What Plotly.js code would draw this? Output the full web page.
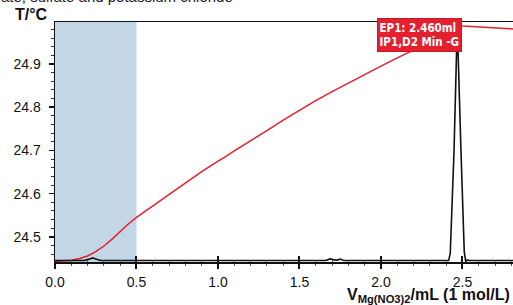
<!DOCTYPE html>
<html>
<head>
<meta charset="utf-8">
<script src="https://cdn.plot.ly/plotly-3.0.1.min.js"></script>
<style>html,body{margin:0;padding:0;background:#fff;overflow:hidden}#chart{width:513px;height:305px}</style>
</head>
<body>
<div id="chart"></div>
<script>
// Temperature curve (red)
const volT = [0, 0.05, 0.10, 0.15, 0.20, 0.25, 0.30, 0.35, 0.40, 0.45, 0.50, 0.60, 0.70, 0.80, 0.90, 1.00, 1.02, 1.035, 1.10, 1.20, 1.30, 1.40, 1.50, 1.60, 1.70, 1.80, 1.90, 2.00, 2.10, 2.20, 2.30, 2.40, 2.44, 2.46, 2.47, 2.50, 2.60, 2.70, 2.81];
const temp = [24.4435, 24.444, 24.446, 24.450, 24.456, 24.466, 24.479, 24.495, 24.513, 24.530, 24.545, 24.572, 24.598, 24.625, 24.651, 24.675, 24.679, 24.683, 24.699, 24.722, 24.746, 24.770, 24.793, 24.815, 24.836, 24.856, 24.876, 24.895, 24.914, 24.932, 24.950, 24.970, 24.980, 24.987, 24.989, 24.988, 24.986, 24.984, 24.981];
// Derivative curve (black), arbitrary units
const volD = [0, 0.18, 0.21, 0.23, 0.25, 0.28, 1.66, 1.69, 1.71, 1.73, 1.75, 1.77, 2.415, 2.425, 2.448, 2.468, 2.491, 2.511, 2.52, 2.53, 2.54, 2.81];
const deriv = [0, 0, 0.006, 0.011, 0.007, 0, 0, 0.007, 0.003, 0.002, 0.006, 0, 0, 0.03, 0.455, 0.99, 0.455, 0.036, -0.004, 0.003, 0, 0];
// Axis settings
const xTicks = [0.0, 0.5, 1.0, 1.5, 2.0, 2.5];
const yTicks = [24.5, 24.6, 24.7, 24.8, 24.9];
const shadeRange = [0, 0.5];
const epLabel = ['EP1: 2.460ml', 'IP1,D2 Min -G'];
const epPoint = [2.46, 24.987];

const font = 'Liberation Sans, Arial, Helvetica, sans-serif';
const traces = [
  {x: volT, y: temp, type: 'scatter', mode: 'lines', line: {color: '#e4202e', width: 1.5}, xaxis: 'x', yaxis: 'y', hoverinfo: 'skip'},
  {x: volD, y: deriv, type: 'scatter', mode: 'lines', line: {color: '#111', width: 1.6}, xaxis: 'x2', yaxis: 'y2', hoverinfo: 'skip'}
];
const xr = [0, 2.81];
const layout = {
  width: 513, height: 305,
  margin: {l: 55, r: 0, t: 22, b: 43},
  paper_bgcolor: '#fff', plot_bgcolor: '#fff',
  showlegend: false,
  font: {family: font, size: 14, color: '#111'},
  xaxis: {range: xr, tickvals: xTicks, tickformat: '.1f', ticks: 'outside', ticklen: 5, tickwidth: 2, tickcolor: '#111',
          showline: true, linecolor: '#111', linewidth: 1.5, mirror: true, showgrid: false, zeroline: false, ticklabelstandoff: 2,
          minor: {dtick: 0.1, ticks: 'outside', ticklen: 2, tickcolor: '#555', tickwidth: 1},
          tickfont: {size: 14}, anchor: 'y'},
  xaxis2: {range: xr, matches: 'x', overlaying: 'x', anchor: 'y', side: 'bottom', tickvals: xTicks, ticks: 'inside', ticklen: 6, tickwidth: 2, tickcolor: '#111',
           showticklabels: false, showline: false, showgrid: false, zeroline: false,
           minor: {dtick: 0.1, ticks: 'inside', ticklen: 2, tickcolor: '#555', tickwidth: 1}},
  yaxis: {range: [24.442, 24.997], tickvals: yTicks, tickformat: '.1f', ticks: 'outside', ticklen: 5, tickwidth: 1.5, tickcolor: '#111',
          showline: true, linecolor: '#111', linewidth: 1.5, showgrid: false, zeroline: false, ticklabelstandoff: 5,
          minor: {dtick: 0.02, ticks: 'outside', ticklen: 3, tickcolor: '#333', tickwidth: 1},
          tickfont: {size: 14}},
  yaxis2: {range: [-0.006, 1.0], overlaying: 'y', anchor: 'x2', visible: false, showgrid: false, zeroline: false},
  shapes: [
    {type: 'rect', xref: 'x', yref: 'paper', x0: shadeRange[0], x1: shadeRange[1], y0: 0, y1: 1, fillcolor: 'rgb(195,214,230)', line: {width: 0}, layer: 'below'}
  ],
  annotations: [
    {text: 'ate, sulfate and potassium chloride', xref: 'paper', yref: 'paper', x: -0.122, y: 1.062, xanchor: 'left', yanchor: 'bottom', showarrow: false, font: {size: 15, family: font, color: '#222'}},
    {text: '<b>T/°C</b>', xref: 'paper', yref: 'paper', x: -0.010, y: 1.03, xanchor: 'right', yanchor: 'middle', showarrow: false, font: {size: 16, family: font, color: '#111'}},
    {text: '<b>V<sub>Mg(NO3)2</sub>/mL (1 mol/L)</b>', xref: 'paper', yref: 'paper', x: 0.634, y: -0.138, xanchor: 'left', yanchor: 'middle', showarrow: false, font: {size: 16, family: font, color: '#111'}},
    {text: '<b>' + epLabel.join('<br>') + '</b>', xref: 'x', yref: 'y', x: epPoint[0], y: epPoint[1], ax: -36, ay: 9, showarrow: true, arrowhead: 0, arrowwidth: 1, arrowcolor: '#e4202e',
     bgcolor: '#e4202e', bordercolor: '#c81822', borderwidth: 1, borderpad: 1.5, font: {size: 11.5, family: 'Liberation Sans Narrow, DejaVu Sans Condensed, Arial Narrow, sans-serif', color: '#fff'}, align: 'left'}
  ]
};
Plotly.newPlot('chart', traces, layout, {staticPlot: true, displayModeBar: false});
</script>
</body>
</html>
